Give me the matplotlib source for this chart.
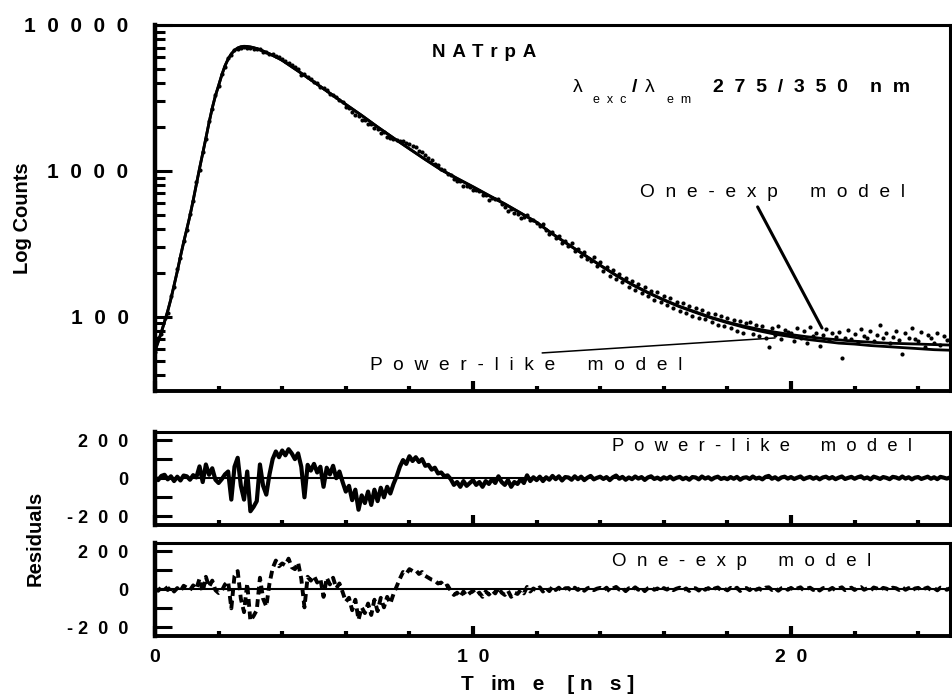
import numpy as np
import matplotlib
matplotlib.use("Agg")
import matplotlib.pyplot as plt
from matplotlib.ticker import FixedLocator, FixedFormatter, MultipleLocator, NullFormatter, LogLocator

plt.rcParams['font.family'] = ['Liberation Sans', 'DejaVu Sans']
plt.rcParams['font.weight'] = 'bold'

# ---------------- data ----------------
t_data = np.round(np.arange(0, 251) * 0.1, 2)          # ns, measured channels
counts = [
    57, 72, 76, 98, 106, 138, 160, 212, 252, 333,
    392, 508, 618, 835, 1020, 1350, 1650, 2190, 2660, 3320,
    3820, 4600, 5190, 5930, 6240, 6790, 6830, 7010, 7060, 6940,
    6970, 6820, 6820, 6840, 6520, 6550, 6330, 6300, 6120, 6020,
    5830, 5690, 5500, 5345, 5120, 4960, 4570, 4590, 4380, 4270,
    4090, 3990, 3780, 3690, 3580, 3370, 3300, 3220, 3050, 2975,
    2760, 2700, 2550, 2430, 2390, 2240, 2240, 2110, 2100, 1960,
    1950, 1825, 1840, 1715, 1680, 1660, 1635, 1610, 1610, 1550,
    1530, 1475, 1450, 1375, 1350, 1280, 1230, 1185, 1120, 1095,
    1030, 1013, 957, 941, 885, 850, 846, 793, 792, 781,
    740, 734, 729, 684, 679, 635, 647, 640, 643, 591,
    565, 533, 552, 511, 505, 475, 480, 496, 462, 463,
    438, 418, 430, 392, 372, 381, 345, 356, 322, 330,
    305, 318, 281, 290, 262, 276, 249, 240, 255, 222,
    236, 207, 220, 190, 208, 181, 195, 172, 184, 160,
    175, 152, 168, 146, 160, 138, 151, 131, 147, 127,
    138, 120, 134, 115, 127, 110, 124, 106, 118, 102,
    115, 98, 111, 96, 106, 92, 104, 88, 101, 86,
    98, 84, 95, 80, 93, 78, 90, 92, 76, 88,
    74, 87, 71, 62, 84, 75, 86, 70, 81, 79,
    78, 68, 84, 72, 80, 66, 85, 74, 77, 63,
    75, 82, 69, 77, 73, 79, 52, 72, 81, 70,
    76, 67, 83, 74, 71, 80, 68, 75, 88, 72,
    78, 66, 73, 80, 69, 56, 77, 72, 84, 70,
    68, 79, 62, 75, 71, 66, 78, 64, 74, 69,
    70,
]

t_fit = list(np.round(np.arange(0, 41) * 0.1, 2)) + list(np.round(4.5 + np.arange(0, 42) * 0.5, 2))
fit_power = [
    59, 68, 79, 93, 110, 133, 165, 205, 260, 325,
    400, 495, 630, 810, 1040, 1320, 1680, 2150, 2700, 3280,
    3850, 4550, 5250, 5850, 6350, 6700, 6950, 7080, 7130, 7110,
    7060, 6980, 6880, 6760, 6620, 6480, 6330, 6180, 6030, 5880,
    5720,
    4830, 4060, 3400, 2850, 2400, 2000, 1680, 1420, 1200, 1020,
    890, 780, 680, 595, 515, 445, 370, 312, 265, 225,
    192, 166, 146, 130, 117, 107, 98, 91, 85, 80,
    76, 73, 70, 68, 66, 65, 63.5, 62.5, 61.5, 60.5,
    59.5, 59,
]
fit_onexp = [
    58, 67, 78, 92, 109, 132, 164, 204, 258, 322,
    398, 492, 625, 805, 1035, 1315, 1675, 2140, 2690, 3270,
    3840, 4540, 5240, 5840, 6340, 6700, 6960, 7100, 7150, 7130,
    7080, 7000, 6900, 6780, 6640, 6490, 6340, 6190, 6040, 5890,
    5730,
    4840, 4070, 3410, 2860, 2400, 2000, 1680, 1415, 1195, 1015,
    885, 775, 676, 592, 513, 444, 370, 313, 266, 226,
    193, 167, 147, 131, 118, 108, 99, 92, 86.5, 82,
    78.5, 75.5, 73, 71, 69.5, 68, 67, 66, 65.5, 65,
    64.5, 64,
]

res_power = [
    5, -10, 12, 18, -6, 10, -15, 8, -12, 14,
    10, -8, 16, 4, 62, -20, 72, 18, 52, -8,
    -25, -5, 20, 35, -112, 60, 107, -40, -112, 35,
    -173, -150, -120, 72, -40, -86, 20, 100, 140, 110,
    145, 120, 152, 130, 100, 130, 60, -100, 70, 40,
    75, 30, 60, -45, 55, 20, 65, 0, 35, -20,
    -70, -40, -115, -60, -165, -90, -130, -70, -140, -60,
    -120, -50, -100, -45, -80, -30, 10, 60, 95, 75,
    115, 90, 110, 85, 100, 65, 70, 45, 55, 25,
    30, 10, 15, -5, -35, -20, -45, -15, -40, -25,
    -10, -35, -20, -45, -15, -30, -5, -25, 10, -20,
    -35, -10, -45, -20, -30, -5, -25, 15, -15, 5,
    -10, 8, -15, 5, -8, 12, -5, 10, -12, 6,
    4, -8, 10, -5, 8, -10, 3, 12, -6, 2,
    8, -4, 6, -10, 5, 14, -3, 7, -8, 4,
    -5, 9, -2, 6, -9, 4, 10, -4, 3, -7,
    5, -3, 8, -6, 2, 7, -5, 3, -8, 6,
    4, -6, 9, -2, 5, -7, 3, 8, -4, 2,
    -5, 6, -3, 7, -8, 2, 5, -4, 9, -2,
    3, -6, 7, 12, -3, 5, -7, 4, 8, -2,
    6, -4, 3, 9, -5, 2, 7, -3, 5, -6,
    4, 8, -2, 6, -5, 3, 9, -4, 2, 7,
    -3, 5, 10, -2, 4, -6, 8, 3, -4, 6,
    2, -5, 7, 4, -3, 9, -2, 5, -6, 3,
    6, -4, 2, 8, -3, 5, -5, 7, 3, -2,
    4,
]
res_onexp = [
    3, -8, 10, 15, -4, 12, -12, 6, -10, 18,
    8, -5, 20, 2, 55, -15, 65, 12, 45, -5,
    -20, -8, 25, 40, -100, 70, 95, -50, -120, 30,
    -165, -140, -110, 60, -50, -90, 30, 110, 150, 120,
    135, 125, 160, 115, 105, 140, 55, -95, 65, 45,
    70, 35, 55, -40, 60, 25, 60, 5, 30, -15,
    -65, -45, -110, -55, -160, -95, -125, -75, -135, -55,
    -115, -45, -95, -40, -75, -25, 15, 55, 90, 80,
    105, 95, 100, 80, 90, 70, 60, 50, 45, 30,
    35, 12, 20, -8, -30, -18, -40, -12, -35, -20,
    -8, -30, -18, -40, -12, -28, -6, -22, 8, -18,
    -30, -8, -40, -18, -25, -4, -22, 12, -12, 4,
    -8, 10, -12, 6, -10, 14, -4, 8, -10, 5,
    6, -10, 8, -4, 10, -8, 5, 10, -5, 3,
    7, -5, 8, -12, 4, 12, -2, 6, -10, 5,
    -4, 10, -3, 8, -10, 5, 12, -3, 4, -8,
    6, -2, 9, -5, 3, 8, -6, 4, -9, 5,
    5, -7, 10, -3, 6, -8, 4, 9, -5, 3,
    -6, 7, -2, 8, -9, 3, 6, -5, 10, -3,
    4, -7, 8, 10, -4, 6, -8, 5, 9, -3,
    7, -5, 4, 10, -6, 3, 8, -4, 6, -7,
    5, 9, -3, 7, -6, 4, 10, -5, 3, 8,
    -4, 6, 11, -3, 5, -7, 9, 4, -5, 7,
    3, -6, 8, 5, -4, 10, -3, 6, -7, 4,
    7, -5, 3, 9, -4, 6, -6, 8, 4, -3,
    5,
]

y_ticks_top = [100, 1000, 10000]
y_labels_top = ['1  0  0', '1  0  0  0', '1  0  0  0  0']
res_ticks = [-200, -100, 0, 100, 200]
res_labels = ['- 2  0  0', '', '0', '', '2  0  0']
x_ticks = [0, 10, 20]
x_labels = ['0', '1  0', '2  0']

# ---------------- figure ----------------
fig = plt.figure(figsize=(9.53, 6.96), dpi=100)
L, W = 155 / 953, 795 / 953
ax1 = fig.add_axes([L, 1 - 391 / 696, W, 366 / 696])
ax2 = fig.add_axes([L, 1 - 525 / 696, W, 93 / 696])
ax3 = fig.add_axes([L, 1 - 636 / 696, W, 93 / 696])

ax1.plot(t_data, counts, ls='none', marker='o', ms=3.0, mew=0, color='black')
ax1.plot(t_fit, fit_power, lw=2.0, color='black')
ax1.plot(t_fit, fit_onexp, lw=2.0, color='black')
ax1.set_yscale('log')
ax1.set_ylim(31, 10000)

ax2.plot(t_data, res_power, lw=3.0, color='black', solid_joinstyle='round')
ax3.plot(t_data, res_onexp, lw=2.8, color='black', dashes=(2.0, 1.2))
for ax in (ax2, ax3):
    ax.axhline(0, color='black', lw=1.5)
    ax.set_ylim(-245, 242)
    ax.yaxis.set_major_locator(FixedLocator(res_ticks))
    ax.yaxis.set_major_formatter(FixedFormatter(res_labels))
    ax.tick_params(axis='y', which='major', direction='in', length=12, width=2.2,
                   pad=19, labelsize=13, right=False)

ax1.yaxis.set_major_locator(FixedLocator(y_ticks_top))
ax1.yaxis.set_major_formatter(FixedFormatter(y_labels_top))
ax1.yaxis.set_minor_locator(LogLocator(base=10, subs=np.arange(2, 10)))
ax1.yaxis.set_minor_formatter(NullFormatter())
ax1.tick_params(axis='y', which='major', direction='in', length=12, width=2.2,
                pad=19, labelsize=15, right=False)
ax1.tick_params(axis='y', which='minor', direction='in', length=7, width=2.2, right=False)

for ax in (ax1, ax2, ax3):
    ax.set_xlim(0, 25)
    ax.xaxis.set_major_locator(FixedLocator(x_ticks))
    ax.xaxis.set_minor_locator(MultipleLocator(2))
    ax.tick_params(axis='x', which='major', direction='in', length=7, width=3, top=False,
                   labelbottom=False)
    ax.tick_params(axis='x', which='minor', direction='in', length=3.5, width=3, top=False)
    ax.spines['left'].set_linewidth(3.2)
    ax.spines['bottom'].set_linewidth(2.8)
    ax.spines['top'].set_linewidth(2.2)
    ax.spines['right'].set_linewidth(2.2)

ax3.xaxis.set_major_formatter(FixedFormatter(x_labels))
ax3.tick_params(axis='x', which='major', labelbottom=True, pad=9, labelsize=14)

# ---------------- annotations ----------------
ax1.text(0.348, 0.926, 'N \u200aA \u200aT \u200ar \u200ap \u200aA', transform=ax1.transAxes,
         fontsize=13.5, va='center')
ax1.text(0.526, 0.828, 'λ', transform=ax1.transAxes, fontsize=14, fontweight='normal', va='center')
ax1.text(0.551, 0.795, 'e  x  c', transform=ax1.transAxes, fontsize=9, fontweight='normal', va='center')
ax1.text(0.600, 0.828, '/', transform=ax1.transAxes, fontsize=14, va='center')
ax1.text(0.616, 0.828, 'λ', transform=ax1.transAxes, fontsize=14, fontweight='normal', va='center')
ax1.text(0.644, 0.795, 'e  m', transform=ax1.transAxes, fontsize=9, fontweight='normal', va='center')
ax1.text(0.702, 0.828, '2  7  5  /  3  5  0', transform=ax1.transAxes, fontsize=14, va='center')
ax1.text(0.899, 0.828, 'n  m', transform=ax1.transAxes, fontsize=14, va='center')

ax1.text(0.610, 0.541, 'O  n  e  -  e  x  p      m  o  d  e  l', transform=ax1.transAxes,
         fontsize=13.8, fontweight='medium', va='center')
ax1.text(0.270, 0.071, 'P  o  w  e  r  -  l  i  k  e      m  o  d  e  l', transform=ax1.transAxes,
         fontsize=13.8, fontweight='medium', va='center')
ax1.annotate('', xy=(0.839, 0.172), xytext=(0.758, 0.503), xycoords='axes fraction',
             arrowprops=dict(arrowstyle='-', lw=2.2, color='black', shrinkA=0, shrinkB=0))
ax1.annotate('', xy=(0.780, 0.145), xytext=(0.487, 0.104), xycoords='axes fraction',
             arrowprops=dict(arrowstyle='-', lw=1.1, color='black', shrinkA=0, shrinkB=0))

ax2.text(0.575, 0.839, 'P  o  w  e  r  -  l  i  k  e      m  o  d  e  l', transform=ax2.transAxes,
         fontsize=13.2, fontweight='medium', va='center')
ax3.text(0.575, 0.806, 'O  n  e  -  e  x  p      m  o  d  e  l', transform=ax3.transAxes,
         fontsize=13.5, fontweight='medium', va='center')

fig.text(23 / 953, 1 - 218 / 696, 'Log Counts', rotation=90, ha='center', va='center', fontsize=14.5)
fig.text(35 / 953, 1 - 538 / 696, 'Residuals', rotation=90, ha='center', va='center', fontsize=14.5)
fig.text(548 / 953, 1 - 684 / 696, 'T   im   e    [ n   s ]', ha='center', va='center', fontsize=15)

fig.savefig('out.png', dpi=100)
